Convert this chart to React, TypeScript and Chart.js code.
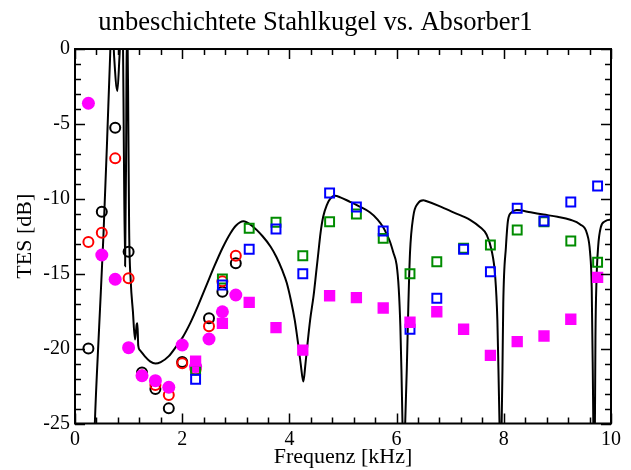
import React, { useEffect, useRef } from 'react';
import { Chart, registerables } from 'chart.js';

Chart.register(...registerables);

// ---- data ----
const circleFreq = [0.25, 0.5, 0.75, 1.0, 1.25, 1.5, 1.75, 2.0, 2.25, 2.5, 2.75, 3.0];
const blackCircleTes = [-20.0, -10.86, -5.25, -13.53, -21.6, -22.7, -23.99, -20.9, -21.2, -17.98, -16.2, -14.3];
const redCircleTes = [-12.88, -12.26, -7.3, -15.3, -21.8, -22.43, -23.1, -20.98, -21.4, -18.5, -15.5, -13.8];
const magentaCircleTes = [-3.62, -13.75, -15.37, -19.94, -21.81, -22.14, -22.58, -19.76, -21.2, -19.36, -17.54, -16.42];

const squareFreq = [2.25, 2.75, 3.25, 3.75, 4.25, 4.75, 5.25, 5.75, 6.25, 6.75, 7.25, 7.75, 8.25, 8.75, 9.25, 9.75];
const blueSquareTes = [-22.05, -15.75, -13.37, -12.02, -15.0, -9.61, -10.55, -12.15, -18.71, -16.64, -13.37, -14.87, -10.63, -11.48, -10.21, -9.15];
const greenSquareTes = [-21.43, -15.35, -11.97, -11.57, -13.8, -11.53, -11.01, -12.64, -15.0, -14.2, -13.3, -13.08, -12.08, -11.53, -12.82, -14.24];
const magentaSquareTes = [-20.83, -18.31, -16.91, -18.6, -20.1, -16.47, -16.6, -17.29, -18.24, -17.54, -18.71, -20.45, -19.54, -19.16, -18.04, -15.24];

const curveFreq = [
  0.33, 0.37, 0.45, 0.53, 0.6, 0.65, 0.68, 0.71, 0.73, 0.79, 0.83, 0.86, 0.895, 0.91, 0.935, 0.955, 0.965, 0.98, 0.995,
  1.01, 1.04, 1.08, 1.12, 1.15, 1.165, 1.18, 1.21, 1.3, 1.4, 1.5, 1.6, 1.75, 1.9, 2.0, 2.15, 2.3, 2.45, 2.6, 2.75, 2.9,
  3.0, 3.14, 3.3, 3.5, 3.65, 3.76, 3.87, 3.95, 4.03, 4.1, 4.16, 4.21, 4.26, 4.3, 4.34, 4.39, 4.45, 4.5, 4.54, 4.58,
  4.63, 4.7, 4.76, 4.85, 4.95, 5.13, 5.3, 5.5, 5.65, 5.75, 5.82, 5.88, 5.94, 6.0, 6.04, 6.07, 6.09, 6.11, 6.135, 6.16,
  6.19, 6.22, 6.25, 6.31, 6.4, 6.5, 6.55, 6.81, 7.06, 7.37, 7.56, 7.68, 7.77, 7.84, 7.88, 7.9, 7.92, 7.94, 7.96, 7.975,
  7.99, 8.04, 8.08, 8.15, 8.24, 8.5, 8.74, 9.0, 9.24, 9.42, 9.55, 9.61, 9.64, 9.66, 9.67, 9.685, 9.7, 9.71, 9.73, 9.76,
  9.81, 9.89, 9.98, 10.0,
];
const curveTes = [
  -30, -25, -18.6, -12.5, -6.0, -1.0, 1.5, 1.0, -0.5, -2.8, -0.5, 1.5, 0.5, -6, -14.5, -6, 1.0, 1.0, -5,
  -12, -15.5, -17.5, -19.4, -18.4, -18.3, -19.8, -20.1, -20.5, -20.85, -21.0, -20.9, -20.5, -19.8, -19.3, -18.3, -17.1, -15.8, -14.5, -13.3, -12.3,
  -11.8, -11.5, -11.8, -12.5, -13.2, -13.9, -14.8, -15.6, -16.8, -18.1, -19.6, -21.0, -22.2, -21.0, -19.6, -18.0, -16.5, -14.9, -13.6, -12.3,
  -11.2, -10.4, -10.0, -9.8, -9.9, -10.2, -10.5, -10.9, -11.4, -11.9, -12.4, -12.9, -13.6, -14.4, -16.0, -18.5, -21.4, -25, -29, -25,
  -21.4, -17.0, -13.6, -11.2, -10.3, -10.1, -10.15, -10.5, -10.9, -11.4, -11.9, -12.4, -13.4, -15.2, -18.1, -21.4, -25, -29, -25, -21.4,
  -17, -13.2, -11.4, -10.9, -10.75, -10.9, -11.05, -11.2, -11.4, -11.7, -12.3, -13.6, -15.9, -21.4, -25, -29, -25, -19.2, -15.4, -13.2,
  -11.9, -11.5, -11.4, -11.4,
];

const xTickValues = [0, 2, 4, 6, 8, 10];
const yTickValues = [-25, -20, -15, -10, -5, 0];
const xMinorStep = 0.4;
const yMinorStep = 1;

const FONT = "'Liberation Serif', 'Times New Roman', serif";

const pts = (xs: number[], ys: (number | null)[]) => xs.map((x, i) => ({ x, y: ys[i] }));

const framePlugin = {
  id: 'frame',
  afterDatasetsDraw(chart: any) {
    const { ctx, chartArea, scales } = chart;
    const { left, right, top, bottom } = chartArea;
    const xs = scales.x;
    const ys = scales.y;
    ctx.save();
    ctx.strokeStyle = '#000';
    ctx.lineWidth = 1.5;
    const nx = Math.round((xs.max - xs.min) / xMinorStep);
    for (let i = 0; i <= nx; i++) {
      const v = xs.min + i * xMinorStep;
      const px = Math.round(xs.getPixelForValue(v)) + 0.5;
      const len = i % 5 === 0 ? 10 : 6;
      ctx.beginPath();
      ctx.moveTo(px, bottom);
      ctx.lineTo(px, bottom - len);
      ctx.moveTo(px, top);
      ctx.lineTo(px, top + len);
      ctx.stroke();
    }
    const ny = Math.round((ys.max - ys.min) / yMinorStep);
    for (let i = 0; i <= ny; i++) {
      const v = ys.min + i * yMinorStep;
      const py = Math.round(ys.getPixelForValue(v)) + 0.5;
      const len = i % 5 === 0 ? 10 : 6;
      ctx.beginPath();
      ctx.moveTo(left, py);
      ctx.lineTo(left + len, py);
      ctx.moveTo(right, py);
      ctx.lineTo(right - len, py);
      ctx.stroke();
    }
    ctx.lineWidth = 2;
    ctx.strokeRect(left, top, right - left, bottom - top);
    ctx.restore();
  },
};

export default function App() {
  const ref = useRef<HTMLCanvasElement | null>(null);
  useEffect(() => {
    if (!ref.current) return;
    const chart = new Chart(ref.current, {
      type: 'scatter',
      data: {
        datasets: [
          {
            label: 'Modell',
            data: pts(curveFreq, curveTes),
            showLine: true,
            borderColor: '#000',
            borderWidth: 2,
            pointRadius: 0,
            tension: 0,
            cubicInterpolationMode: 'monotone',
            order: 10,
          } as any,
          {
            label: 'schwarz',
            data: pts(circleFreq, blackCircleTes),
            pointStyle: 'circle',
            pointRadius: 5,
            borderColor: '#000',
            backgroundColor: 'rgba(0,0,0,0)',
            borderWidth: 2,
            order: 9,
          },
          {
            label: 'rot',
            data: pts(circleFreq, redCircleTes),
            pointStyle: 'circle',
            pointRadius: 5,
            borderColor: '#ff0000',
            backgroundColor: 'rgba(0,0,0,0)',
            borderWidth: 2,
            order: 8,
          },
          {
            label: 'magenta Kreis',
            data: pts(circleFreq, magentaCircleTes),
            pointStyle: 'circle',
            pointRadius: 6.5,
            borderWidth: 0,
            borderColor: '#ff00ff',
            backgroundColor: '#ff00ff',
            order: 7,
          },
          {
            label: 'grün',
            data: pts(squareFreq, greenSquareTes),
            pointStyle: 'rect',
            pointRadius: 6.3,
            borderColor: '#008c00',
            backgroundColor: 'rgba(0,0,0,0)',
            borderWidth: 2,
            order: 6,
          },
          {
            label: 'blau',
            data: pts(squareFreq, blueSquareTes),
            pointStyle: 'rect',
            pointRadius: 6.3,
            borderColor: '#0000ff',
            backgroundColor: 'rgba(0,0,0,0)',
            borderWidth: 2,
            order: 5,
          },
          {
            label: 'magenta Quadrat',
            data: pts(squareFreq, magentaSquareTes),
            pointStyle: 'rect',
            pointRadius: 8,
            borderWidth: 0,
            borderColor: '#ff00ff',
            backgroundColor: '#ff00ff',
            order: 4,
          },
        ],
      },
      options: {
        responsive: false,
        animation: false,
        devicePixelRatio: 1,
        layout: { padding: { left: 0, right: 0, top: 0, bottom: 0 } },
        plugins: {
          legend: { display: false },
          tooltip: { enabled: false },
          title: {
            display: true,
            text: 'unbeschichtete Stahlkugel vs. Absorber1',
            color: '#000',
            font: { family: FONT, size: 26.6, weight: 'normal' },
            padding: { top: 7, bottom: 10.1 },
          },
        },
        scales: {
          x: {
            type: 'linear',
            min: 0,
            max: 10,
            afterBuildTicks: (s: any) => {
              s.ticks = xTickValues.map((v) => ({ value: v }));
            },
            afterFit: (s: any) => {
              s.height = 46.5;
            },
            grid: { display: false, drawTicks: false },
            border: { display: false },
            ticks: {
              color: '#000',
              font: { family: FONT, size: 20 },
              padding: 4,
              maxRotation: 0,
              autoSkip: false,
            },
            title: {
              display: true,
              text: 'Frequenz [kHz]',
              color: '#000',
              font: { family: FONT, size: 22 },
              padding: { top: 0, bottom: 0 },
            },
          },
          y: {
            type: 'linear',
            min: -25,
            max: 0,
            afterBuildTicks: (s: any) => {
              s.ticks = yTickValues.map((v) => ({ value: v }));
            },
            afterFit: (s: any) => {
              s.width = 75;
            },
            grid: { display: false, drawTicks: false },
            border: { display: false },
            ticks: {
              color: '#000',
              font: { family: FONT, size: 20 },
              padding: 5,
              autoSkip: false,
            },
            title: {
              display: true,
              text: 'TES [dB]',
              color: '#000',
              font: { family: FONT, size: 22 },
              padding: { top: 12, bottom: 0 },
            },
          },
          yRightSpacer: {
            type: 'linear',
            position: 'right',
            min: -25,
            max: 0,
            display: true,
            afterFit: (s: any) => {
              s.width = 20;
            },
            grid: { display: false, drawTicks: false },
            border: { display: false },
            ticks: { display: false },
            title: { display: false },
          },
        },
      } as any,
      plugins: [framePlugin],
    });
    return () => chart.destroy();
  }, []);

  return (
    <div style={{ position: 'fixed', left: 0, top: 0, width: 631, height: 470, background: '#fff' }}>
      <canvas ref={ref} width={631} height={470} style={{ width: 631, height: 470, display: 'block' }} />
    </div>
  );
}
